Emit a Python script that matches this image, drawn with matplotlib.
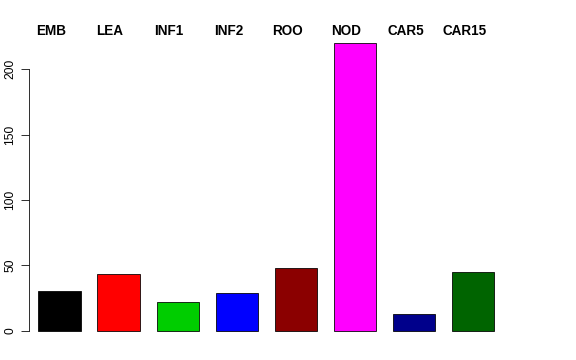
import matplotlib
matplotlib.use("Agg")
import matplotlib.pyplot as plt
import matplotlib.transforms as mtransforms

categories = ["EMB", "LEA", "INF1", "INF2", "ROO", "NOD", "CAR5", "CAR15"]
values = [30, 43, 21.5, 29, 47.5, 220, 12.5, 45]
colors = ["#000000", "#FF0000", "#00CD00", "#0000FF", "#8B0000", "#FF00FF", "#00008B", "#006400"]
yticks = [0, 50, 100, 150, 200]

plt.rcParams['font.family'] = ['Liberation Sans', 'DejaVu Sans']

fig = plt.figure(figsize=(8, 5), dpi=72)
ax = fig.add_axes([0.0509, 0.05, 0.839, 0.862])

x = [0.9 + 1.4 * i for i in range(len(categories))]
ax.bar(x, values, width=1.0, color=colors, edgecolor="black", linewidth=0.8)

ax.set_xlim(0.187, 11.632)
ax.set_ylim(-8.8, 228.8)

for s in ["top", "right", "bottom"]:
    ax.spines[s].set_visible(False)
ax.spines["left"].set_bounds(0, 200)
ax.spines["left"].set_linewidth(0.8)
ax.set_xticks([])
ax.set_yticks(yticks)
ax.set_yticklabels([str(t) for t in yticks], rotation=90, va="center", fontsize=12)
ax.tick_params(axis="y", length=8, width=0.8, pad=5)

trans = mtransforms.blended_transform_factory(ax.transData, ax.transAxes)
for xi, lab in zip(x, categories):
    ax.text(xi - 0.2, 1.003, lab, transform=trans, ha="center", va="center",
            fontsize=13.5, fontweight="bold")

fig.savefig("out.png", dpi=72)
